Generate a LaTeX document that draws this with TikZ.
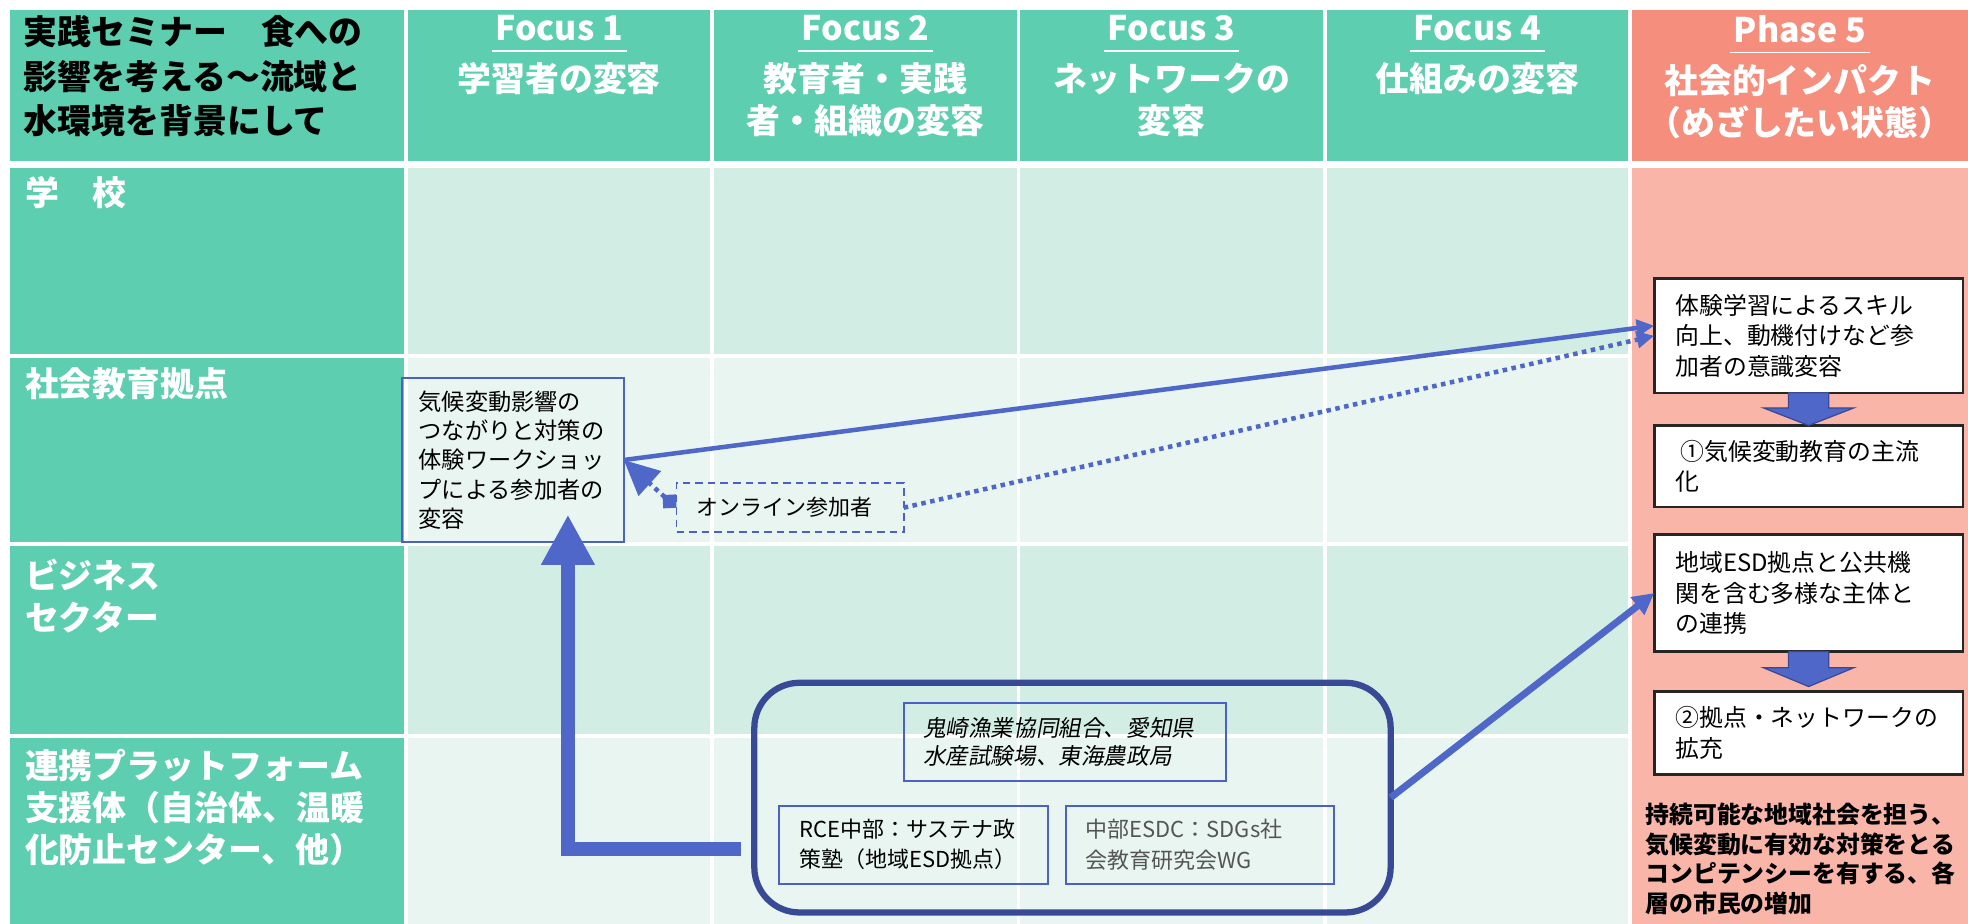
\documentclass[tikz,border=0pt]{standalone}
\usepackage{fontspec}
\setmainfont{Noto Sans CJK JP}
\newfontfamily\jpslant[FakeSlant=0.18]{Noto Sans CJK JP}
\usetikzlibrary{positioning, arrows.meta}

\definecolor{hdteal}{RGB}{94,206,176}
\definecolor{bandA}{RGB}{210,237,228}
\definecolor{bandB}{RGB}{232,245,241}
\definecolor{phhead}{RGB}{245,142,124}
\definecolor{phbody}{RGB}{248,181,168}
\definecolor{linkblue}{RGB}{79,103,200}
\definecolor{frameblue}{RGB}{56,74,150}
\definecolor{boxblue}{RGB}{75,98,196}
\definecolor{notegray}{RGB}{85,85,85}

\newcommand{\headul}[1]{\setbox0=\hbox{#1}\rlap{\hspace{-3pt}\rule[-9pt]{\dimexpr\wd0+6pt\relax}{1.3pt}}\box0}

\begin{document}
\begin{tikzpicture}[
    x=1pt, y=-1pt,
    every node/.style={inner sep=0pt, outer sep=0pt},
    titletext/.style={anchor=north west, align=left, font=\fontsize{27}{35.5}\selectfont\bfseries},
    headtext/.style={anchor=north, align=center, text=white, font=\fontsize{27}{33}\selectfont\bfseries},
    rowtext/.style={anchor=north west, align=left, text=white, font=\fontsize{27}{33.5}\selectfont\bfseries},
    infobox/.style={draw=boxblue, line width=1.7pt, align=left, font=\fontsize{18.5}{23.3}\selectfont},
    phasebox/.style={draw=black!85, line width=2pt, fill=white, align=left, text width=212pt, inner xsep=17pt, font=\fontsize{19}{24.5}\selectfont},
    frame/.style={draw=frameblue, line width=5pt, rounded corners=36pt, minimum width=507pt, minimum height=183pt},
    goaltext/.style={anchor=north west, align=left, font=\fontsize{19}{23.5}\selectfont\bfseries},
    link/.style={draw=linkblue, line width=3.6pt, -{Triangle[length=14pt,width=13pt]}},
    dotlink/.style={link, dash pattern=on 3.6pt off 3.6pt},
    downarrow/.style={fill=linkblue, draw=frameblue, line width=1pt}
]
\useasboundingbox (0,0) rectangle (1568,736);
\fill[white] (0,0) rectangle (1568,736);

\foreach \xa/\xb in {8/322,325/566,569/810,813/1054,1057/1297}
  \fill[hdteal] (\xa,8) rectangle (\xb,128.5);
\fill[phhead] (1300,8) rectangle (1568,128.5);
\foreach \ya/\yb in {134/282,285/432,435/585,588/736}
  \fill[hdteal] (8,\ya) rectangle (322,\yb);
\foreach \xa/\xb in {325/566,569/810,813/1054,1057/1297} {
  \fill[bandA] (\xa,134) rectangle (\xb,282);
  \fill[bandB] (\xa,285) rectangle (\xb,432);
  \fill[bandA] (\xa,435) rectangle (\xb,585);
  \fill[bandB] (\xa,588) rectangle (\xb,736);
}
\fill[phbody] (1300,134) rectangle (1568,736);

\node[titletext] (ttl) at (19,12.5) {実践セミナー　食への\\影響を考える～流域と\\水環境を背景にして};
\node[headtext] (f1) at (445.5,12) {\headul{Focus 1}\\[8pt]学習者の変容};
\node[headtext] (f2) at (689.5,12) {\headul{Focus 2}\\[8pt]教育者・実践\\者・組織の変容};
\node[headtext] (f3) at (933.5,12) {\headul{Focus 3}\\[8pt]ネットワークの\\変容};
\node[headtext] (f4) at (1177,12) {\headul{Focus 4}\\[8pt]仕組みの変容};
\node[headtext] (ph) at (1434,12) {\headul{Phase 5}\\[8pt]社会的インパクト\\（めざしたい状態）};

\node[rowtext] (school) at (20,140.5) {学　校};
\node[rowtext] (social) at (20,292.5) {社会教育拠点};
\node[rowtext] (biz) at (20,445.5) {ビジネス\\セクター};
\node[rowtext] (platform) at (20,596.5) {連携プラットフォーム\\支援体（自治体、温暖\\化防止センター、他）};

\node[infobox, text width=150pt, inner xsep=13.5pt, minimum height=131pt] (ws) at (408.5,366.5) {気候変動影響の\\つながりと対策の\\体験ワークショッ\\プによる参加者の\\変容};
\node[infobox, line width=1.5pt, dash pattern=on 6pt off 4pt, text width=149pt, inner xsep=16pt, minimum height=39pt, font=\fontsize{17.5}{22}\selectfont] (online) at (629.5,404.5) {オンライン参加者};

\node[frame] (net) at (854.5,635.5) {};
\node[infobox, text width=226pt, inner xsep=15.5pt, minimum height=62pt, font=\fontsize{18}{22}\selectfont\jpslant] (orgs) at (848.5,591) {鬼崎漁業協同組合、愛知県\\水産試験場、東海農政局};
\node[infobox, text width=182pt, inner xsep=16pt, minimum height=62pt, font=\fontsize{17.5}{24}\selectfont] (rce) at (728,673) {RCE中部：サステナ政\\策塾（地域ESD拠点）};
\node[infobox, text width=182pt, inner xsep=16pt, minimum height=62pt, text=notegray, font=\fontsize{17.5}{24}\selectfont, right=14pt of rce] (esdc) {中部ESDC：SDGs社\\会教育研究会WG};

\node[phasebox, minimum height=91pt] (p1) at (1441,267.5) {体験学習によるスキル\\向上、動機付けなど参\\加者の意識変容};
\node[phasebox, minimum height=65pt, below=26pt of p1] (p2) {\hspace*{4pt}①気候変動教育の主流\\化};
\node[phasebox, minimum height=93pt, below=22pt of p2] (p3) {地域ESD拠点と公共機\\関を含む多様な主体と\\の連携};
\node[phasebox, minimum height=66pt, below=32pt of p3] (p4) {②拠点・ネットワークの\\拡充};
\node[goaltext] (goal) at (1311,640) {持続可能な地域社会を担う、\\気候変動に有効な対策をとる\\コンピテンシーを有する、各\\層の市民の増加};

\draw[downarrow] ([xshift=-16pt]p1.south) -- ++(0,12) -- ++(-20,0) -- ++(36,14) -- ++(36,-14) -- ++(-20,0) -- ++(0,-12) -- cycle;
\draw[downarrow] ([xshift=-16pt]p3.south) -- ++(0,13) -- ++(-20,0) -- ++(36,15) -- ++(36,-15) -- ++(-20,0) -- ++(0,-13) -- cycle;

\draw[link] (ws.east) -- ([yshift=8pt]p1.west);
\draw[dotlink] (online.east) -- (p1.west);
\draw[dotlink, {Diamond[length=15pt,width=15pt]}-{Triangle[length=28pt,width=26pt]}] (online.west) -- (ws.east);
\draw[link, line width=5.5pt, -{Triangle[length=17pt,width=17pt]}] (net.east) -- (p3.west);
\draw[draw=linkblue, line width=11pt, -{Triangle[length=40pt,width=40pt]}] ([xshift=-11pt,yshift=-41pt]net.west) -| ([xshift=44pt,yshift=22pt]ws.south);
\end{tikzpicture}
\end{document}
